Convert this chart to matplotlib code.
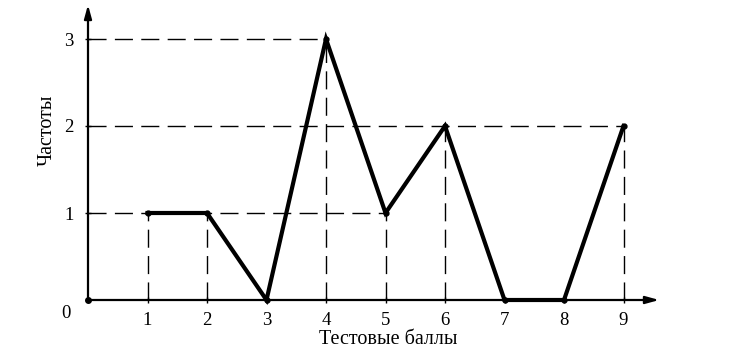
import matplotlib
matplotlib.use("Agg")
import matplotlib.pyplot as plt

scores = [1, 2, 3, 4, 5, 6, 7, 8, 9]
freqs = [1, 1, 0, 3, 1, 2, 0, 0, 2]
y_ticks = [1, 2, 3]
xlabel = "Тестовые баллы"
ylabel = "Частоты"

plt.rcParams['font.family'] = ['Liberation Serif', 'DejaVu Serif']

W, H = 732, 353
fig = plt.figure(figsize=(W/100, H/100), dpi=100)
x0, y0 = 88, 300
xpu, ypu = 59.5, 87.0
xmax = (662 - x0) / xpu
ymax = (y0 - 2) / ypu
ax = fig.add_axes([x0/W, (H - y0)/H, (662 - x0)/W, (y0 - 2)/H])
ax.set_xlim(0, xmax)
ax.set_ylim(0, ymax)
for s in ax.spines.values():
    s.set_visible(False)

# axes with arrows
ax.annotate("", xy=(xmax, 0), xytext=(0, 0),
            arrowprops=dict(arrowstyle="-|>,head_length=0.8,head_width=0.22", lw=1.6, color="black"),
            annotation_clip=False)
ax.annotate("", xy=(0, ymax), xytext=(0, 0),
            arrowprops=dict(arrowstyle="-|>,head_length=0.8,head_width=0.22", lw=1.6, color="black"),
            annotation_clip=False)
ax.plot([0], [0], 'o', color='black', ms=4, clip_on=False)

dash = (0, (13, 6))
# vertical dashed guides
for x, y in zip(scores, freqs):
    if y > 0:
        ax.plot([x, x], [0, y], color='black', lw=1.0, linestyle=dash)
# horizontal dashed guides to the rightmost point at each level
for lvl in y_ticks:
    xs = [x for x, y in zip(scores, freqs) if y == lvl]
    if xs:
        ax.plot([0, max(xs)], [lvl, lvl], color='black', lw=1.0, linestyle=dash)

ax.plot(scores, freqs, color='black', lw=3.0, marker='o', ms=3.5,
        solid_joinstyle='miter', clip_on=False)

ax.set_xticks(scores)
ax.set_xticklabels([str(s) for s in scores])
ax.set_yticks(y_ticks)
ax.set_yticklabels([str(v) for v in y_ticks])
ax.tick_params(axis='both', direction='inout', length=5, width=1, labelsize=13.5, colors='black')
ax.tick_params(axis='x', pad=6)
ax.tick_params(axis='y', pad=8)
ax.text(-0.3, -0.15, "0", ha='right', va='center', fontsize=13.5)

fig.text(388/W, 1 - 340/H, xlabel, ha='center', va='center', fontsize=14.5)
fig.text(47/W, 1 - 130/H, ylabel, ha='center', va='center', fontsize=14.5, rotation=90)

fig.savefig("out.png", dpi=100, facecolor='white')
